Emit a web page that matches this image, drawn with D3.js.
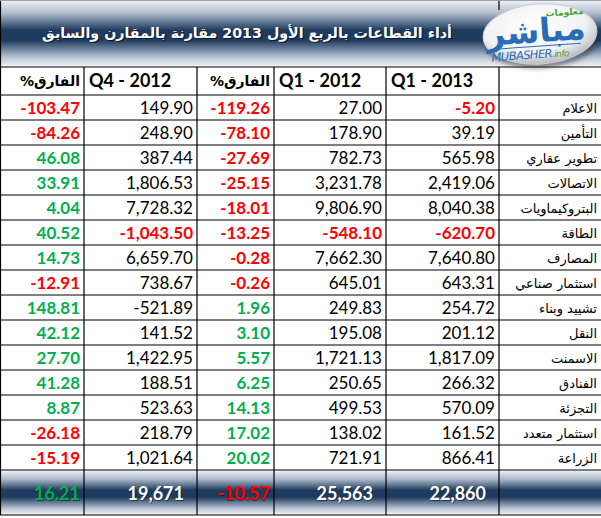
<!DOCTYPE html>
<html>
<head>
<meta charset="utf-8">
<script src="https://cdn.jsdelivr.net/npm/d3@7"></script>
<style>
  body { margin: 0; background: #fff; }
  svg { display: block; }
</style>
</head>
<body>
<div id="wrapper"></div>
<script>
const title = "أداء القطاعات بالربع الأول 2013 مقارنة بالمقارن والسابق";

const headers = ["الفارق%", "Q4 - 2012", "الفارق%", "Q1 - 2012", "Q1 - 2013", ""];

const sectors = ["الاعلام", "التأمين", "تطوير عقاري", "الاتصالات", "البتروكيماويات",
  "الطاقة", "المصارف", "استثمار صناعي", "تشييد وبناء", "النقل", "الاسمنت",
  "الفنادق", "التجزئة", "استثمار متعدد", "الزراعة"];

const q1_2013 = [-5.20, 39.19, 565.98, 2419.06, 8040.38, -620.70, 7640.80, 643.31,
  254.72, 201.12, 1817.09, 266.32, 570.09, 161.52, 866.41];
const q1_2012 = [27.00, 178.90, 782.73, 3231.78, 9806.90, -548.10, 7662.30, 645.01,
  249.83, 195.08, 1721.13, 250.65, 499.53, 138.02, 721.91];
const diffQ1 = [-119.26, -78.10, -27.69, -25.15, -18.01, -13.25, -0.28, -0.26,
  1.96, 3.10, 5.57, 6.25, 14.13, 17.02, 20.02];
const q4_2012 = [149.90, 248.90, 387.44, 1806.53, 7728.32, -1043.50, 6659.70, 738.67,
  -521.89, 141.52, 1422.95, 188.51, 523.63, 218.79, 1021.64];
const diffQ4 = [-103.47, -84.26, 46.08, 33.91, 4.04, 40.52, 14.73, -12.91,
  148.81, 42.12, 27.70, 41.28, 8.87, -26.18, -15.19];

// totals row: [diffQ4, Q4 2012, diffQ1, Q1 2012, Q1 2013]
const totals = [16.21, 19671, -10.57, 25563, 22860];

// the one negative value the sheet left black
const plainNegatives = ["q4:8"];

const width = 601, height = 518;
const red = "#ff0000", green = "#00b050";
const numFont = "Lato, 'Open Sans', sans-serif";
const arFont = "'DejaVu Sans', sans-serif";

const locale = d3.formatLocale({ decimal: ".", thousands: ",", grouping: [3], currency: ["", ""], minus: "-" });
const fmt2 = locale.format(",.2f");
const fmt0 = locale.format(",.0f");

// column edges (left to right)
const edges = [0, 84, 197, 274, 386, 499, 601];
const columns = [
  { key: "dq4", values: diffQ4, pct: true },
  { key: "q4", values: q4_2012 },
  { key: "dq1", values: diffQ1, pct: true },
  { key: "q12", values: q1_2012 },
  { key: "q13", values: q1_2013 },
];

const svg = d3.select("#wrapper").append("svg")
  .attr("width", width)
  .attr("height", height);

const defs = svg.append("defs");
function band(id) {
  const g = defs.append("linearGradient").attr("id", id)
    .attr("x1", 0).attr("y1", 0).attr("x2", 0).attr("y2", 1);
  [[0, "#f3f5f8"], [0.2, "#aebbcc"], [0.45, "#1e3a5e"], [0.6, "#1e3a5e"], [0.86, "#bcc7d5"], [1, "#f3f5f8"]]
    .forEach(([o, c]) => g.append("stop").attr("offset", o).attr("stop-color", c));
}
band("titleGrad");
band("totalGrad");

const logoGrad = defs.append("radialGradient").attr("id", "logoGrad")
  .attr("cx", "45%").attr("cy", "35%").attr("r", "65%");
logoGrad.append("stop").attr("offset", 0).attr("stop-color", "#ffffff");
logoGrad.append("stop").attr("offset", 0.7).attr("stop-color", "#f0f1f3");
logoGrad.append("stop").attr("offset", 1).attr("stop-color", "#b8bcc4");

const blur = defs.append("filter").attr("id", "soft");
blur.append("feGaussianBlur").attr("stdDeviation", 2.5);

svg.append("rect").attr("width", width).attr("height", height).attr("fill", "#fff");

const rowY = d3.scaleBand()
  .domain(d3.range(sectors.length))
  .range([95, 470]);

// title band
svg.append("rect")
  .attr("x", 0).attr("y", 0).attr("width", width).attr("height", 67)
  .attr("fill", "url(#titleGrad)");

// total band
svg.append("rect")
  .attr("x", 0).attr("y", 470).attr("width", width).attr("height", 45)
  .attr("fill", "url(#totalGrad)");

// grid
const grid = svg.append("g").attr("stroke", "#000").attr("stroke-width", 1.2);
const hLines = [67, 95].concat(sectors.map((d, i) => rowY(i) + rowY.bandwidth()), [515]);
grid.selectAll("line.h").data(hLines).join("line")
  .attr("x1", 0).attr("x2", width)
  .attr("y1", d => d).attr("y2", d => d);
grid.selectAll("line.v").data(edges.slice(1, -1)).join("line")
  .attr("x1", d => d).attr("x2", d => d)
  .attr("y1", 67).attr("y2", 515);
grid.append("line").attr("x1", 0.5).attr("x2", 0.5).attr("y1", 0).attr("y2", 515);
grid.append("line").attr("x1", 499).attr("x2", 499).attr("y1", 0).attr("y2", 10);
grid.append("line").attr("x1", 0).attr("x2", width).attr("y1", 0.5).attr("y2", 0.5)
  .attr("stroke", "#9aa3ad");

// title text (rtl: anchor "start" sits on the right edge), sized to span x 42..452
const tg = svg.append("g").attr("font-family", arFont).attr("font-weight", "bold")
  .attr("font-size", 16).attr("text-anchor", "start").attr("direction", "rtl");
const titleShadow = tg.append("text").attr("x", 453.2).attr("y", 39.2)
  .attr("fill", "#0b1a2e").text(title);
const titleText = tg.append("text").attr("x", 452).attr("y", 38)
  .attr("fill", "#ffffff").text(title);
const tw = titleText.node().getComputedTextLength();
if (tw > 0) tg.attr("font-size", 16 * 410 / tw);

// logo
const logo = svg.append("g").attr("transform", "translate(540,34) rotate(-4)");
logo.append("ellipse").attr("cx", 2).attr("cy", 6).attr("rx", 57).attr("ry", 28)
  .attr("fill", "#1b2535").attr("opacity", 0.55).attr("filter", "url(#soft)");
logo.append("ellipse").attr("rx", 57).attr("ry", 30)
  .attr("fill", "url(#logoGrad)").attr("stroke", "#c9cdd3");
logo.append("text").attr("x", 26).attr("y", -17).attr("text-anchor", "middle")
  .attr("font-family", arFont).attr("font-size", 9).attr("font-weight", "bold")
  .attr("fill", "#4aa33c").text("معلومات");
logo.append("text").attr("x", -4).attr("y", 8).attr("text-anchor", "middle")
  .attr("font-family", arFont).attr("font-size", 33).attr("font-weight", "bold")
  .attr("fill", "#2a6db5").text("مباشر");
logo.append("line").attr("x1", -46).attr("x2", 40).attr("y1", 12).attr("y2", 12)
  .attr("stroke", "#2a6db5").attr("stroke-width", 1);
const lt = logo.append("text").attr("x", -50).attr("y", 24)
  .attr("font-family", "'DejaVu Sans', sans-serif").attr("font-style", "italic")
  .attr("font-size", 11.5).attr("letter-spacing", -0.6);
lt.append("tspan").attr("fill", "#2a6db5").text("MUBASHER");
lt.append("tspan").attr("fill", "#4aa33c").attr("font-size", 9).text(".info");

// header row
const head = svg.append("g").attr("font-weight", "bold").attr("fill", "#000");
headers.forEach((h, i) => {
  if (!h) return;
  const arabic = /[\u0600-\u06FF]/.test(h);
  head.append("text")
    .attr("x", arabic ? edges[i + 1] - 4 : edges[i] + 5)
    .attr("y", 81).attr("dy", "0.35em")
    .attr("text-anchor", "start")
    .attr("direction", arabic ? "rtl" : "ltr")
    .attr("font-family", arabic ? arFont : numFont)
    .attr("font-size", arabic ? 14 : 18)
    .text(h);
});

// sector labels
svg.append("g").selectAll("text").data(sectors).join("text")
  .attr("x", 597)
  .attr("y", (d, i) => rowY(i) + rowY.bandwidth() / 2)
  .attr("dy", "0.4em")
  .attr("text-anchor", "start")
  .attr("direction", "rtl")
  .attr("font-family", arFont)
  .attr("font-size", 13)
  .attr("fill", "#000")
  .text(d => d);

// values
columns.forEach((col, ci) => {
  svg.append("g").selectAll("text").data(col.values).join("text")
    .attr("x", edges[ci + 1] - 4)
    .attr("y", (d, i) => rowY(i) + rowY.bandwidth() / 2)
    .attr("dy", "0.36em")
    .attr("text-anchor", "end")
    .attr("font-family", numFont)
    .attr("font-size", 17)
    .attr("font-weight", (d, i) => col.pct || (d < 0 && !plainNegatives.includes(col.key + ":" + i)) ? "bold" : "normal")
    .attr("fill", (d, i) => {
      if (col.pct) return d < 0 ? red : green;
      return d < 0 && !plainNegatives.includes(col.key + ":" + i) ? red : "#000";
    })
    .text(d => fmt2(d));
});

// totals row
const tot = svg.append("g").attr("font-family", numFont).attr("font-weight", "bold")
  .attr("font-size", 18).attr("text-anchor", "end");
totals.forEach((v, i) => {
  const pct = columns[i].pct;
  const x = edges[i + 1] - (pct ? 4 : 13);
  const txt = pct ? fmt2(v) : fmt0(v);
  const fill = pct ? (v < 0 ? red : green) : "#ffffff";
  tot.append("text").attr("x", x + 1).attr("y", 495).attr("dy", "0.36em")
    .attr("fill", "#0b1a2e").attr("opacity", 0.6).text(txt);
  tot.append("text").attr("x", x).attr("y", 494).attr("dy", "0.36em")
    .attr("fill", fill).text(txt);
});
</script>
</body>
</html>
